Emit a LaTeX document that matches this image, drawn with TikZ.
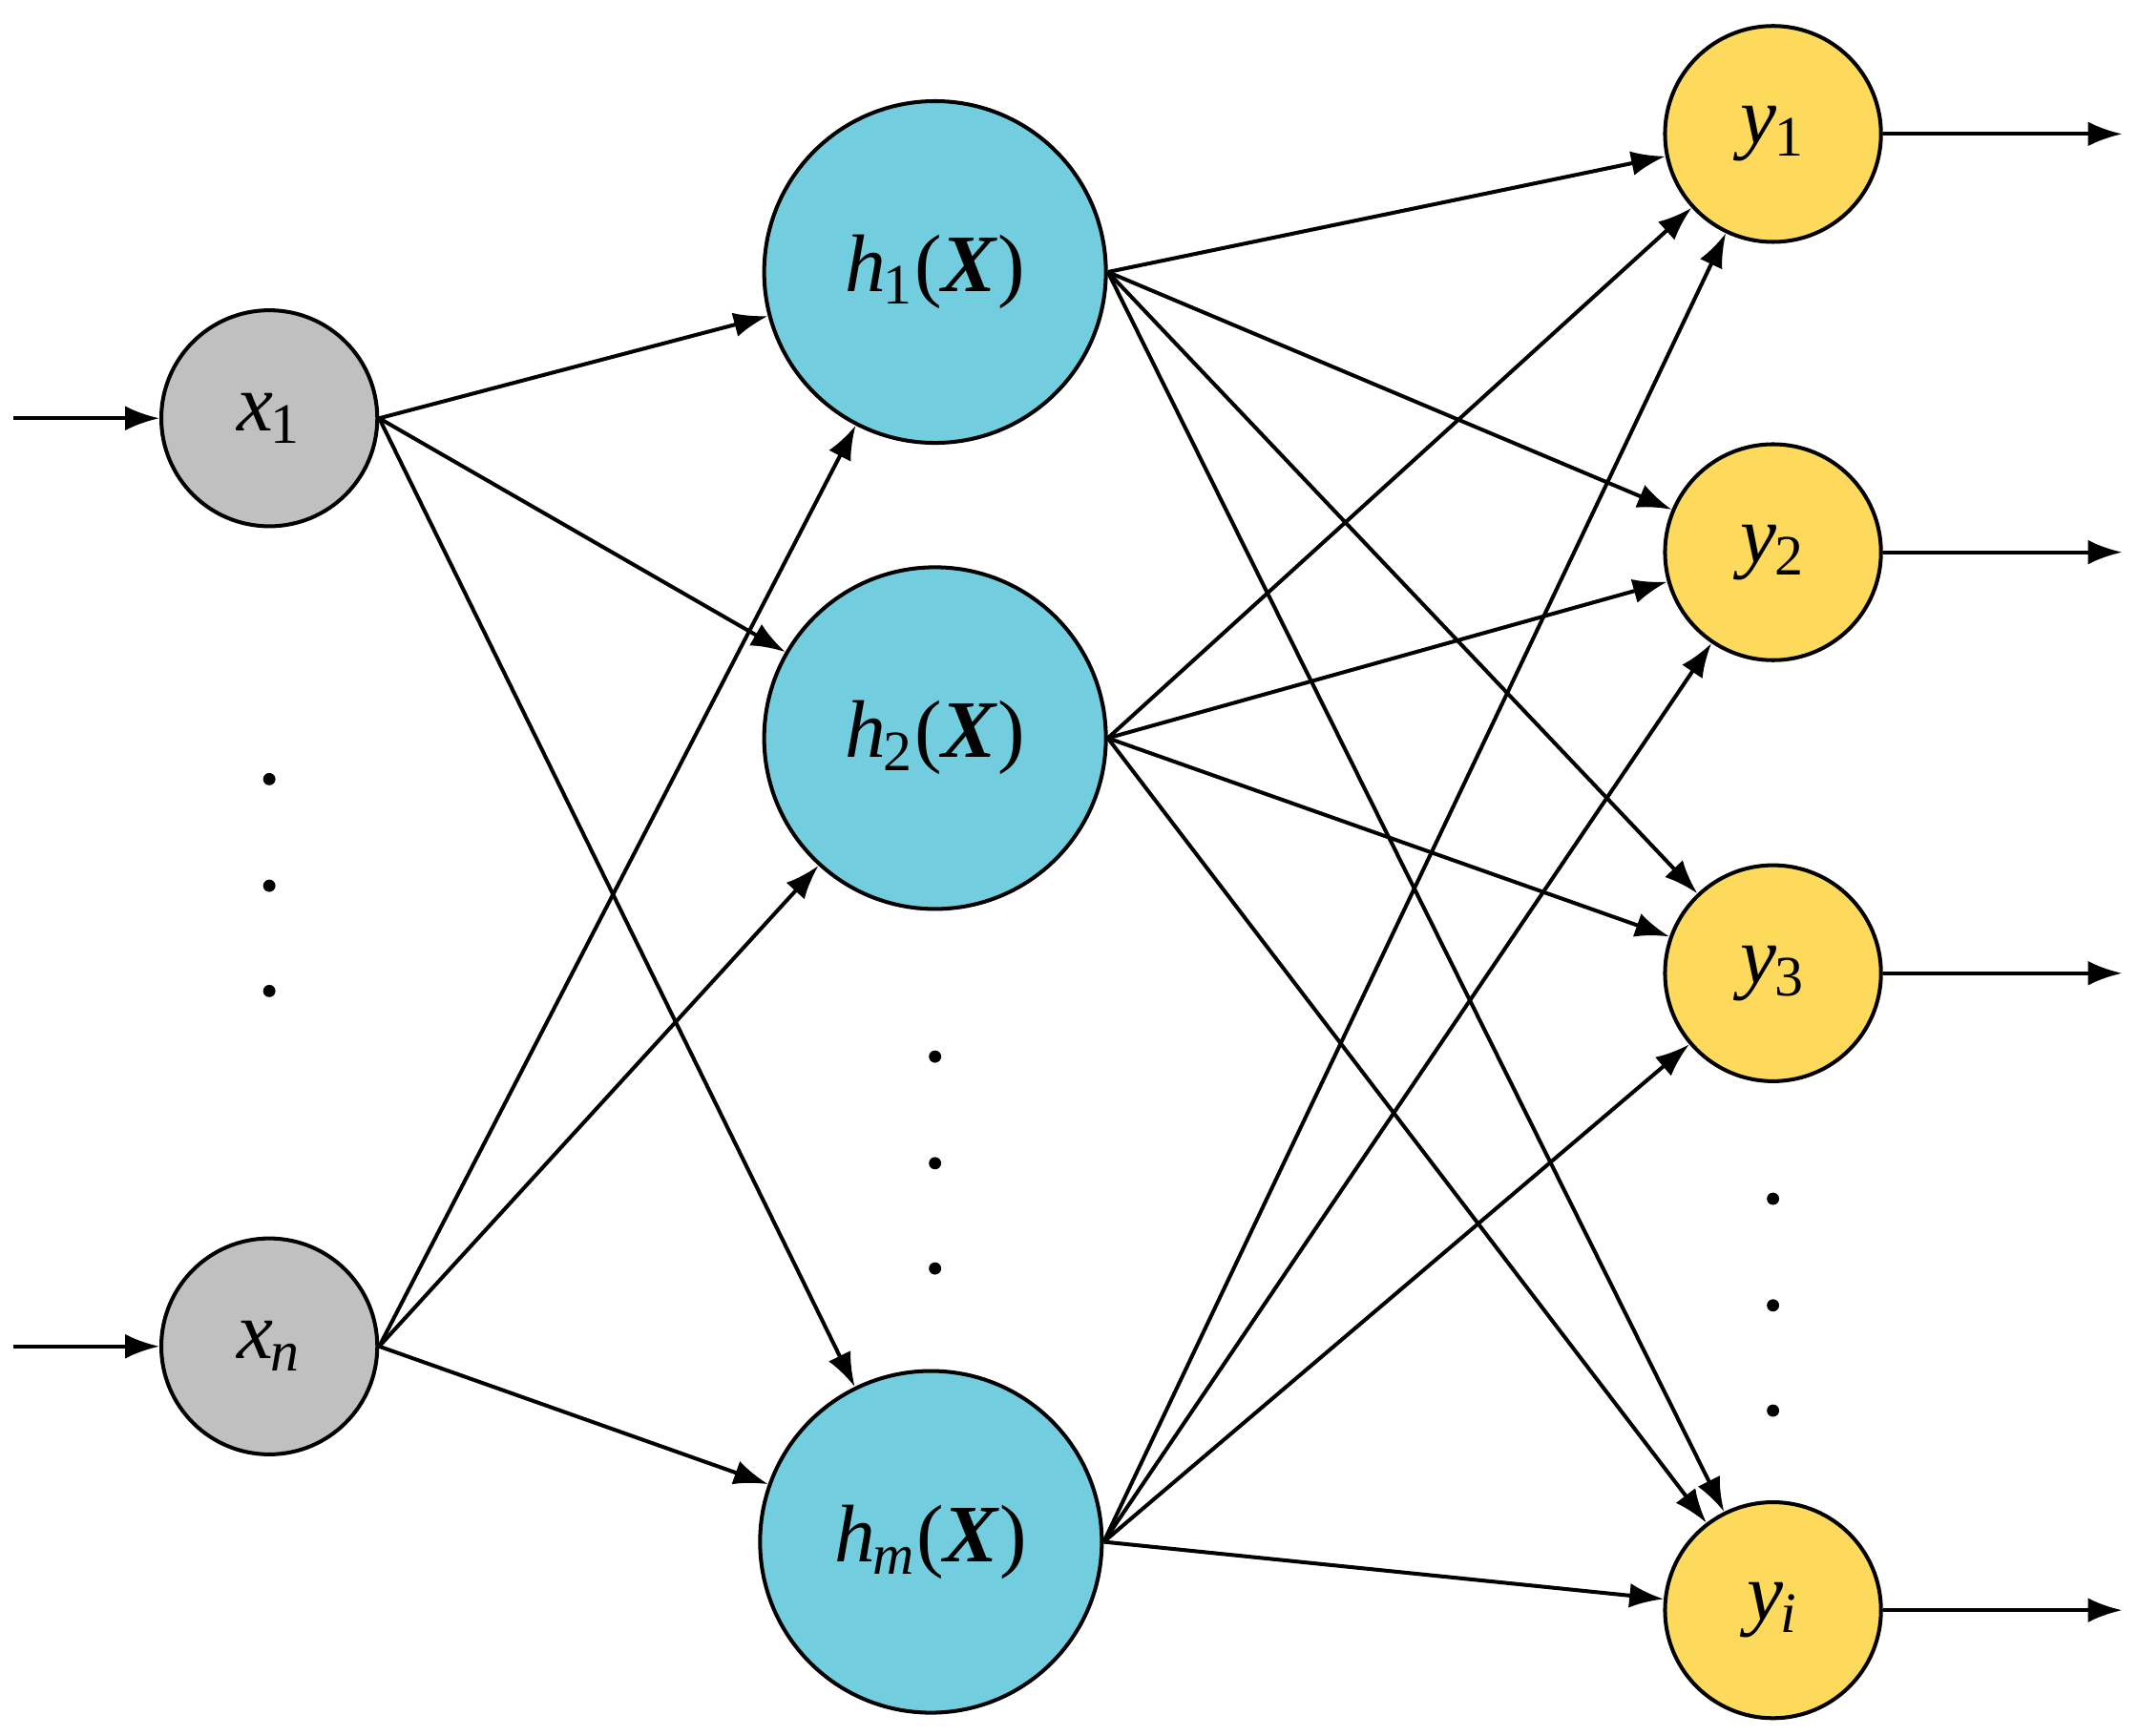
\documentclass[tikz,border=0pt]{standalone}
\usepackage{fontspec}
\setmainfont{Liberation Serif}
\usetikzlibrary{arrows.meta}
\definecolor{incol}{HTML}{C0C0C0}
\definecolor{hidcol}{HTML}{72CEDE}
\definecolor{outcol}{HTML}{FDDA5C}
\newcommand{\vx}[2]{\textit{#1}\textsubscript{\kern-0.5pt#2}}
\newcommand{\hX}[1]{\vx{h}{#1}(\textbf{\textit{X}})}
\begin{document}
\begin{tikzpicture}[x=1cm,y=-1cm,
  neuron/.style={circle,draw,line width=0.8pt,inner sep=0pt,font=\fontsize{17}{19}\selectfont},
  inp/.style={neuron,fill=incol,minimum size=1.58cm},
  hid/.style={neuron,fill=hidcol,minimum size=2.5cm},
  outp/.style={neuron,fill=outcol,minimum size=1.58cm},
  conn/.style={-{Latex[length=0.25cm,width=0.18cm]},line width=0.8pt},
  dot/.style={circle,fill,inner sep=0pt,minimum size=0.09cm}]
  \useasboundingbox (0,0) rectangle (15.64,12.70);
  % input layer
  \node[inp] (x1) at (1.97,3.06) {\vx{x}{1}};
  \node[inp] (xn) at (1.97,9.85) {\vx{x}{\textit{n}}};
  % hidden layer
  \node[hid] (h1) at (6.84,1.99) {\hX{1}};
  \node[hid] (h2) at (6.84,5.40) {\hX{2}};
  \node[hid] (hm) at (6.81,11.28) {\hX{\textit{m}}};
  % output layer
  \node[outp] (y1) at (12.97,0.98) {\vx{y}{1}};
  \node[outp] (y2) at (12.97,4.04) {\vx{y}{2}};
  \node[outp] (y3) at (12.97,7.12) {\vx{y}{3}};
  \node[outp] (yi) at (12.97,11.78) {\vx{y}{\textit{i}}};
  % dots
  \foreach \yy [count=\k] in {5.70,6.48,7.25} {
    \node[dot] (dx\k) at (1.97,\yy) {};
    \node[dot] (dh\k) at (6.84,\yy+2.03) {};
    \node[dot] (dy\k) at (12.97,\yy+3.07) {};
  }
  % free ends
  \coordinate (in1) at (0.10,3.06);
  \coordinate (inn) at (0.10,9.85);
  \foreach \o in {1,2,3,i} {
    \path (y\o.east) ++(1.75,0) coordinate (out\o);
    \draw[conn] (y\o.east) -- (out\o);
  }
  \draw[conn] (in1) -- (x1);
  \draw[conn] (inn) -- (xn);
  \foreach \a in {1,n}
    \foreach \b in {1,2,m}
      \draw[conn] (x\a.east) -- (h\b);
  \foreach \a in {1,2,m}
    \foreach \b in {1,2,3,i}
      \draw[conn] (h\a.east) -- (y\b);
\end{tikzpicture}
\end{document}
